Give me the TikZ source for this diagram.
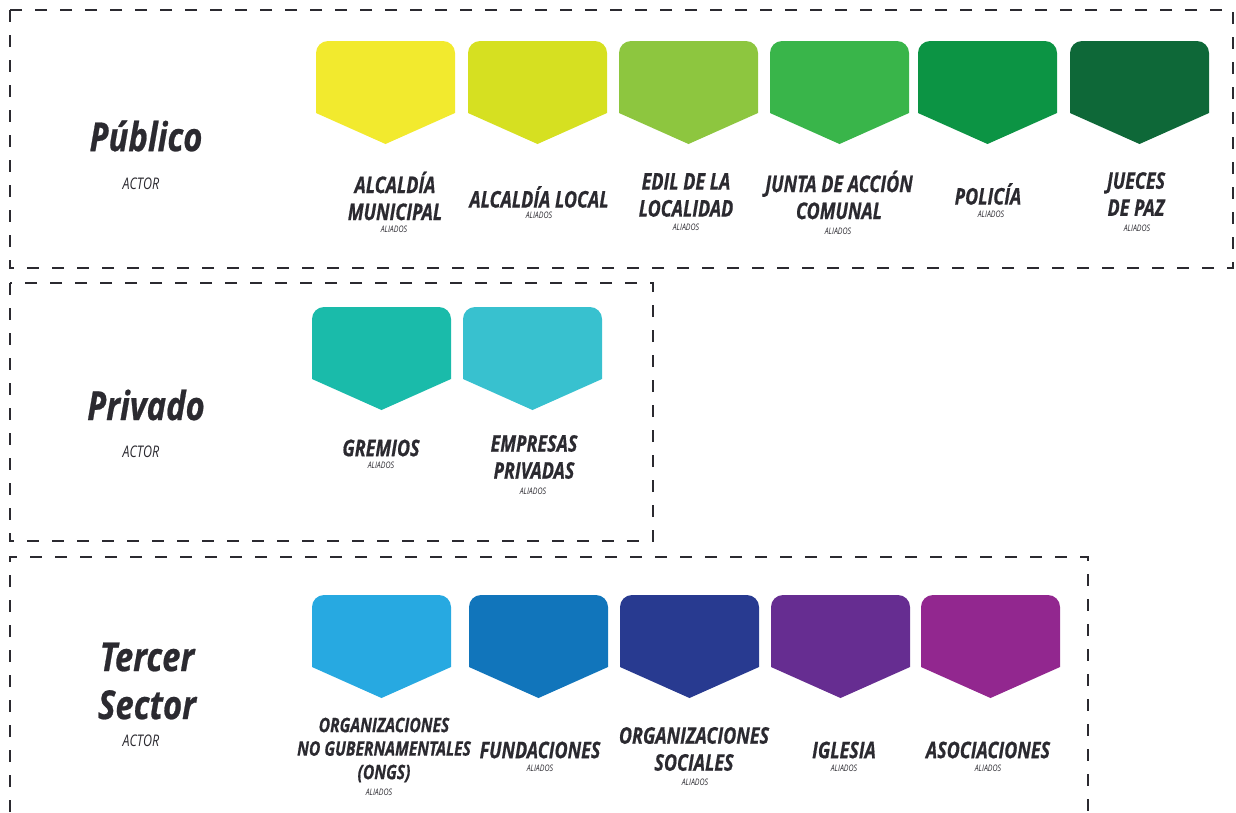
\documentclass[tikz,border=0pt]{standalone}
\usepackage{fontspec}
\newfontfamily\condfont{Open Sans}[FakeStretch=0.78,BoldItalicFeatures={FakeBold=0.6}]
\newfontfamily\titlefont{Open Sans}[FakeStretch=0.82,BoldItalicFeatures={FakeBold=0.6}]
\definecolor{ink}{HTML}{2B2A30}
\definecolor{c1}{HTML}{F2EA2E}
\definecolor{c2}{HTML}{D6E021}
\definecolor{c3}{HTML}{8DC63F}
\definecolor{c4}{HTML}{39B54A}
\definecolor{c5}{HTML}{0C9444}
\definecolor{c6}{HTML}{0E6838}
\definecolor{c7}{HTML}{1ABBAA}
\definecolor{c8}{HTML}{38C1CF}
\definecolor{c9}{HTML}{27A9E1}
\definecolor{c10}{HTML}{1175BB}
\definecolor{c11}{HTML}{283A90}
\definecolor{c12}{HTML}{662D91}
\definecolor{c13}{HTML}{92278F}
\begin{document}
\begin{tikzpicture}[x=1pt,y=-1pt,
		banner/.pic={\path[pic actions] (0,72) -- (0,12) arc[start angle=180,end angle=270,radius=12] -- (127,0) arc[start angle=270,end angle=360,radius=12] -- (139,72) -- (69.5,103) -- cycle;},
		frame/.style={draw=ink,line width=2pt,dash pattern=on 12pt off 13pt},
		lbl/.style={align=center,text=ink,inner sep=0pt,font=\condfont\bfseries\itshape\fontsize{23}{27}\selectfont},
		ali/.style={text=ink,inner sep=0pt,font=\condfont\itshape\fontsize{9}{10}\selectfont},
		sector/.style={align=center,text=ink,inner sep=0pt,font=\titlefont\bfseries\itshape\fontsize{40}{48}\selectfont},
		actor/.style={text=ink,inner sep=0pt,font=\condfont\itshape\fontsize{16}{18}\selectfont}]
		\useasboundingbox (0,0) rectangle (1236,812);

		% marcos
		\draw[frame] (10,10) rectangle (1233,268);
		\draw[frame] (10,283) rectangle (653,541);
		\draw[frame] (10,812) -- (10,557) -- (1088,557) -- (1088,812);

		% publico
		\node[sector] (pub) at (146,136) {Público};
		\node[actor] (pub-a) at (141,184) {ACTOR};
		\pic[fill=c1] at (316,41) {banner};
		\pic[fill=c2] at (468,41) {banner};
		\pic[fill=c3] at (619,41) {banner};
		\pic[fill=c4] at (770,41) {banner};
		\pic[fill=c5] at (918,41) {banner};
		\pic[fill=c6] at (1070,41) {banner};
		\node[lbl] (alcm) at (395,196) {ALCALDÍA\\MUNICIPAL};
		\node[ali] (alcm-a) at (394,229) {ALIADOS};
		\node[lbl] (alcl) at (539,197) {ALCALDÍA LOCAL};
		\node[ali] (alcl-a) at (539,215) {ALIADOS};
		\node[lbl] (edil) at (686,195) {EDIL DE LA\\LOCALIDAD};
		\node[ali] (edil-a) at (686,227) {ALIADOS};
		\node[lbl] (junta) at (839,195) {JUNTA DE ACCIÓN\\COMUNAL};
		\node[ali] (junta-a) at (838,231) {ALIADOS};
		\node[lbl] (pol) at (988,194) {POLICÍA};
		\node[ali] (pol-a) at (991,214) {ALIADOS};
		\node[lbl] (jue) at (1136,194) {JUECES\\DE PAZ};
		\node[ali] (jue-a) at (1137,228) {ALIADOS};

		% privado
		\node[sector] (priv) at (146,405) {Privado};
		\node[actor] (priv-a) at (141,452) {ACTOR};
		\pic[fill=c7] at (312,307) {banner};
		\pic[fill=c8] at (463,307) {banner};
		\node[lbl] (grem) at (381,448) {GREMIOS};
		\node[ali] (grem-a) at (381,465) {ALIADOS};
		\node[lbl] (emp) at (534,457) {EMPRESAS\\PRIVADAS};
		\node[ali] (emp-a) at (533,491) {ALIADOS};

		% tercer sector
		\node[sector] (ter) at (147,681) {Tercer\\Sector};
		\node[actor] (ter-a) at (141,741) {ACTOR};
		\pic[fill=c9] at (312,595) {banner};
		\pic[fill=c10] at (469,595) {banner};
		\pic[fill=c11] at (620,595) {banner};
		\pic[fill=c12] at (771,595) {banner};
		\pic[fill=c13] at (921,595) {banner};
		\node[lbl,font=\condfont\bfseries\itshape\fontsize{20}{23.5}\selectfont] (ong) at (384,750) {ORGANIZACIONES\\NO GUBERNAMENTALES\\(ONGS)};
		\node[ali] (ong-a) at (379,792) {ALIADOS};
		\node[lbl] (fund) at (540,750) {FUNDACIONES};
		\node[ali] (fund-a) at (540,768) {ALIADOS};
		\node[lbl] (orgs) at (694,749) {ORGANIZACIONES\\SOCIALES};
		\node[ali] (orgs-a) at (695,782) {ALIADOS};
		\node[lbl] (igl) at (844,750) {IGLESIA};
		\node[ali] (igl-a) at (844,768) {ALIADOS};
		\node[lbl] (asoc) at (988,750) {ASOCIACIONES};
		\node[ali] (asoc-a) at (988,768) {ALIADOS};
		\end{tikzpicture}
\end{document}
